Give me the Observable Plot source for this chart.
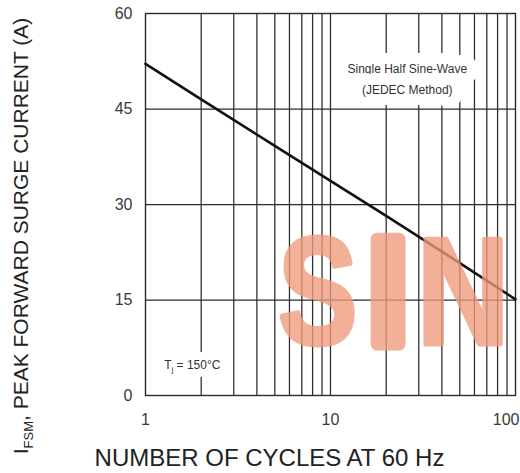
<!DOCTYPE html>
<html>
<head>
<meta charset="utf-8">
<script src="https://cdn.jsdelivr.net/npm/d3@7"></script>
<script src="https://cdn.jsdelivr.net/npm/@observablehq/plot@0.6"></script>
<style>
  html, body { margin: 0; padding: 0; background: white; }
  #chart svg { display: block; }
</style>
</head>
<body>
<div id="chart"></div>
<script>
// Data
const cycles = [1, 2, 5, 10, 20, 50, 100];
const surgeCurrent = [52.1, 46.5, 39.2, 33.7, 28.2, 20.8, 15.1];
const yTicks = [0, 15, 30, 45, 60];
const xTickLabels = [1, 10];
const xTickLabelEnd = [100];
const xGrid = [2, 3, 4, 5, 6, 7, 8, 9, 10, 20, 30, 40, 50, 60, 70, 80, 90];
const yGrid = [15, 30, 45];
const noteLines = ["Single Half Sine-Wave", "(JEDEC Method)"];
const noteX = [26, 26];
const noteY = [51.2, 47.9];
const tjLabel = ["Tj = 150°C"];
const tjX = [1.79];
const tjY = [4.7];
const xTitle = "NUMBER OF CYCLES AT 60 Hz";
const yTitleParts = ["I", "FSM", ", PEAK FORWARD SURGE CURRENT (A)"];
// watermark letters (position in data units, horizontal squeeze, extra weight)
const wmLetters = ["S", "I", "N"];
const wmX = [8.6, 20.6, 52.4];
const wmScale = [0.78, 1, 0.84];
const wmWeight = [5, 13, 5];
const wmY = 16.6;

const curve = cycles.map((c, i) => ({c, v: surgeCurrent[i]}));
const notes = noteLines.map((t, i) => ({t, x: noteX[i], y: noteY[i]}));
const tj = tjLabel.map((t, i) => ({t, x: tjX[i], y: tjY[i]}));

const font = "'Liberation Sans', Arial, sans-serif";

const plot = Plot.plot({
  width: 520,
  height: 473,
  marginTop: 13,
  marginBottom: 78,
  marginLeft: 145,
  marginRight: 5,
  style: {fontFamily: font, background: "white", overflow: "visible"},
  x: {type: "log", domain: [1, 100], axis: null},
  y: {domain: [0, 60], axis: null},
  marks: [
    Plot.ruleX(xGrid, {stroke: "#2a2a2a", strokeWidth: 1.25}),
    Plot.ruleY(yGrid, {stroke: "#2a2a2a", strokeWidth: 1.25}),
    Plot.frame({stroke: "#2a2a2a", strokeWidth: 1.4}),
    Plot.line(curve, {x: "c", y: "v", stroke: "#111", strokeWidth: 2.6}),
    Plot.text(notes, {x: "x", y: "y", text: "t", fontSize: 12, fill: "#333",
      stroke: "white", strokeWidth: 22}),
    // halo behind the Tj label, then the label itself
    Plot.text(tj, {x: "x", y: "y", text: "t", fontSize: 12, fill: "white",
      stroke: "white", strokeWidth: 16}),
    Plot.text(tj, {x: "x", y: "y", text: "t", fontSize: 12, fill: "#333"}),
    Plot.axisY(yTicks, {tickSize: 0, tickPadding: 13, fontSize: 16, fill: "#3a3a3a", label: null}),
    Plot.axisX(xTickLabels, {tickSize: 0, tickPadding: 18, fontSize: 16, fill: "#3a3a3a", label: null, tickFormat: d => String(d)}),
    Plot.axisX(xTickLabelEnd, {tickSize: 0, tickPadding: 18, fontSize: 16, fill: "#3a3a3a", label: null,
      textAnchor: "end", dx: 4, tickFormat: d => String(d)})
  ]
});

document.getElementById("chart").appendChild(plot);

const svg = d3.select(plot);
const xs = plot.scale("x");
const ys = plot.scale("y");

// subscript j in the Tj label (both halo and label copies)
svg.selectAll("text").filter(function() { return this.textContent === tjLabel[0]; }).each(function() {
  const t = d3.select(this);
  t.text(null);
  t.append("tspan").text("T");
  t.append("tspan").attr("font-size", 8).attr("dy", 3).text("j");
  t.append("tspan").attr("dy", -3).text(" = 150°C");
});

// watermark
wmLetters.forEach((ch, i) => {
  svg.append("text")
    .attr("transform", `translate(${xs.apply(wmX[i])},${ys.apply(wmY)}) scale(${wmScale[i]},1)`)
    .attr("text-anchor", "middle")
    .attr("dy", "0.36em")
    .style("font-family", font)
    .style("font-weight", "900")
    .attr("font-size", 152)
    .attr("fill", "#f09a7c")
    .attr("stroke", "#f09a7c")
    .attr("stroke-width", wmWeight[i])
    .attr("stroke-linejoin", "round")
    .attr("opacity", 0.78)
    .text(ch);
});

// x title
svg.append("text")
  .attr("x", 269.5)
  .attr("y", 466)
  .attr("text-anchor", "middle")
  .attr("font-family", font)
  .attr("font-size", 24)
  .attr("fill", "#222")
  .text(xTitle);

// y title with subscript
const yt = svg.append("text")
  .attr("transform", "translate(28,236) rotate(-90)")
  .attr("text-anchor", "middle")
  .attr("font-family", font)
  .attr("font-size", 21)
  .attr("fill", "#222");
yt.append("tspan").text(yTitleParts[0]);
yt.append("tspan").attr("font-size", 13).attr("dy", 5).text(yTitleParts[1]);
yt.append("tspan").attr("dy", -5).text(yTitleParts[2]);
</script>
</body>
</html>
